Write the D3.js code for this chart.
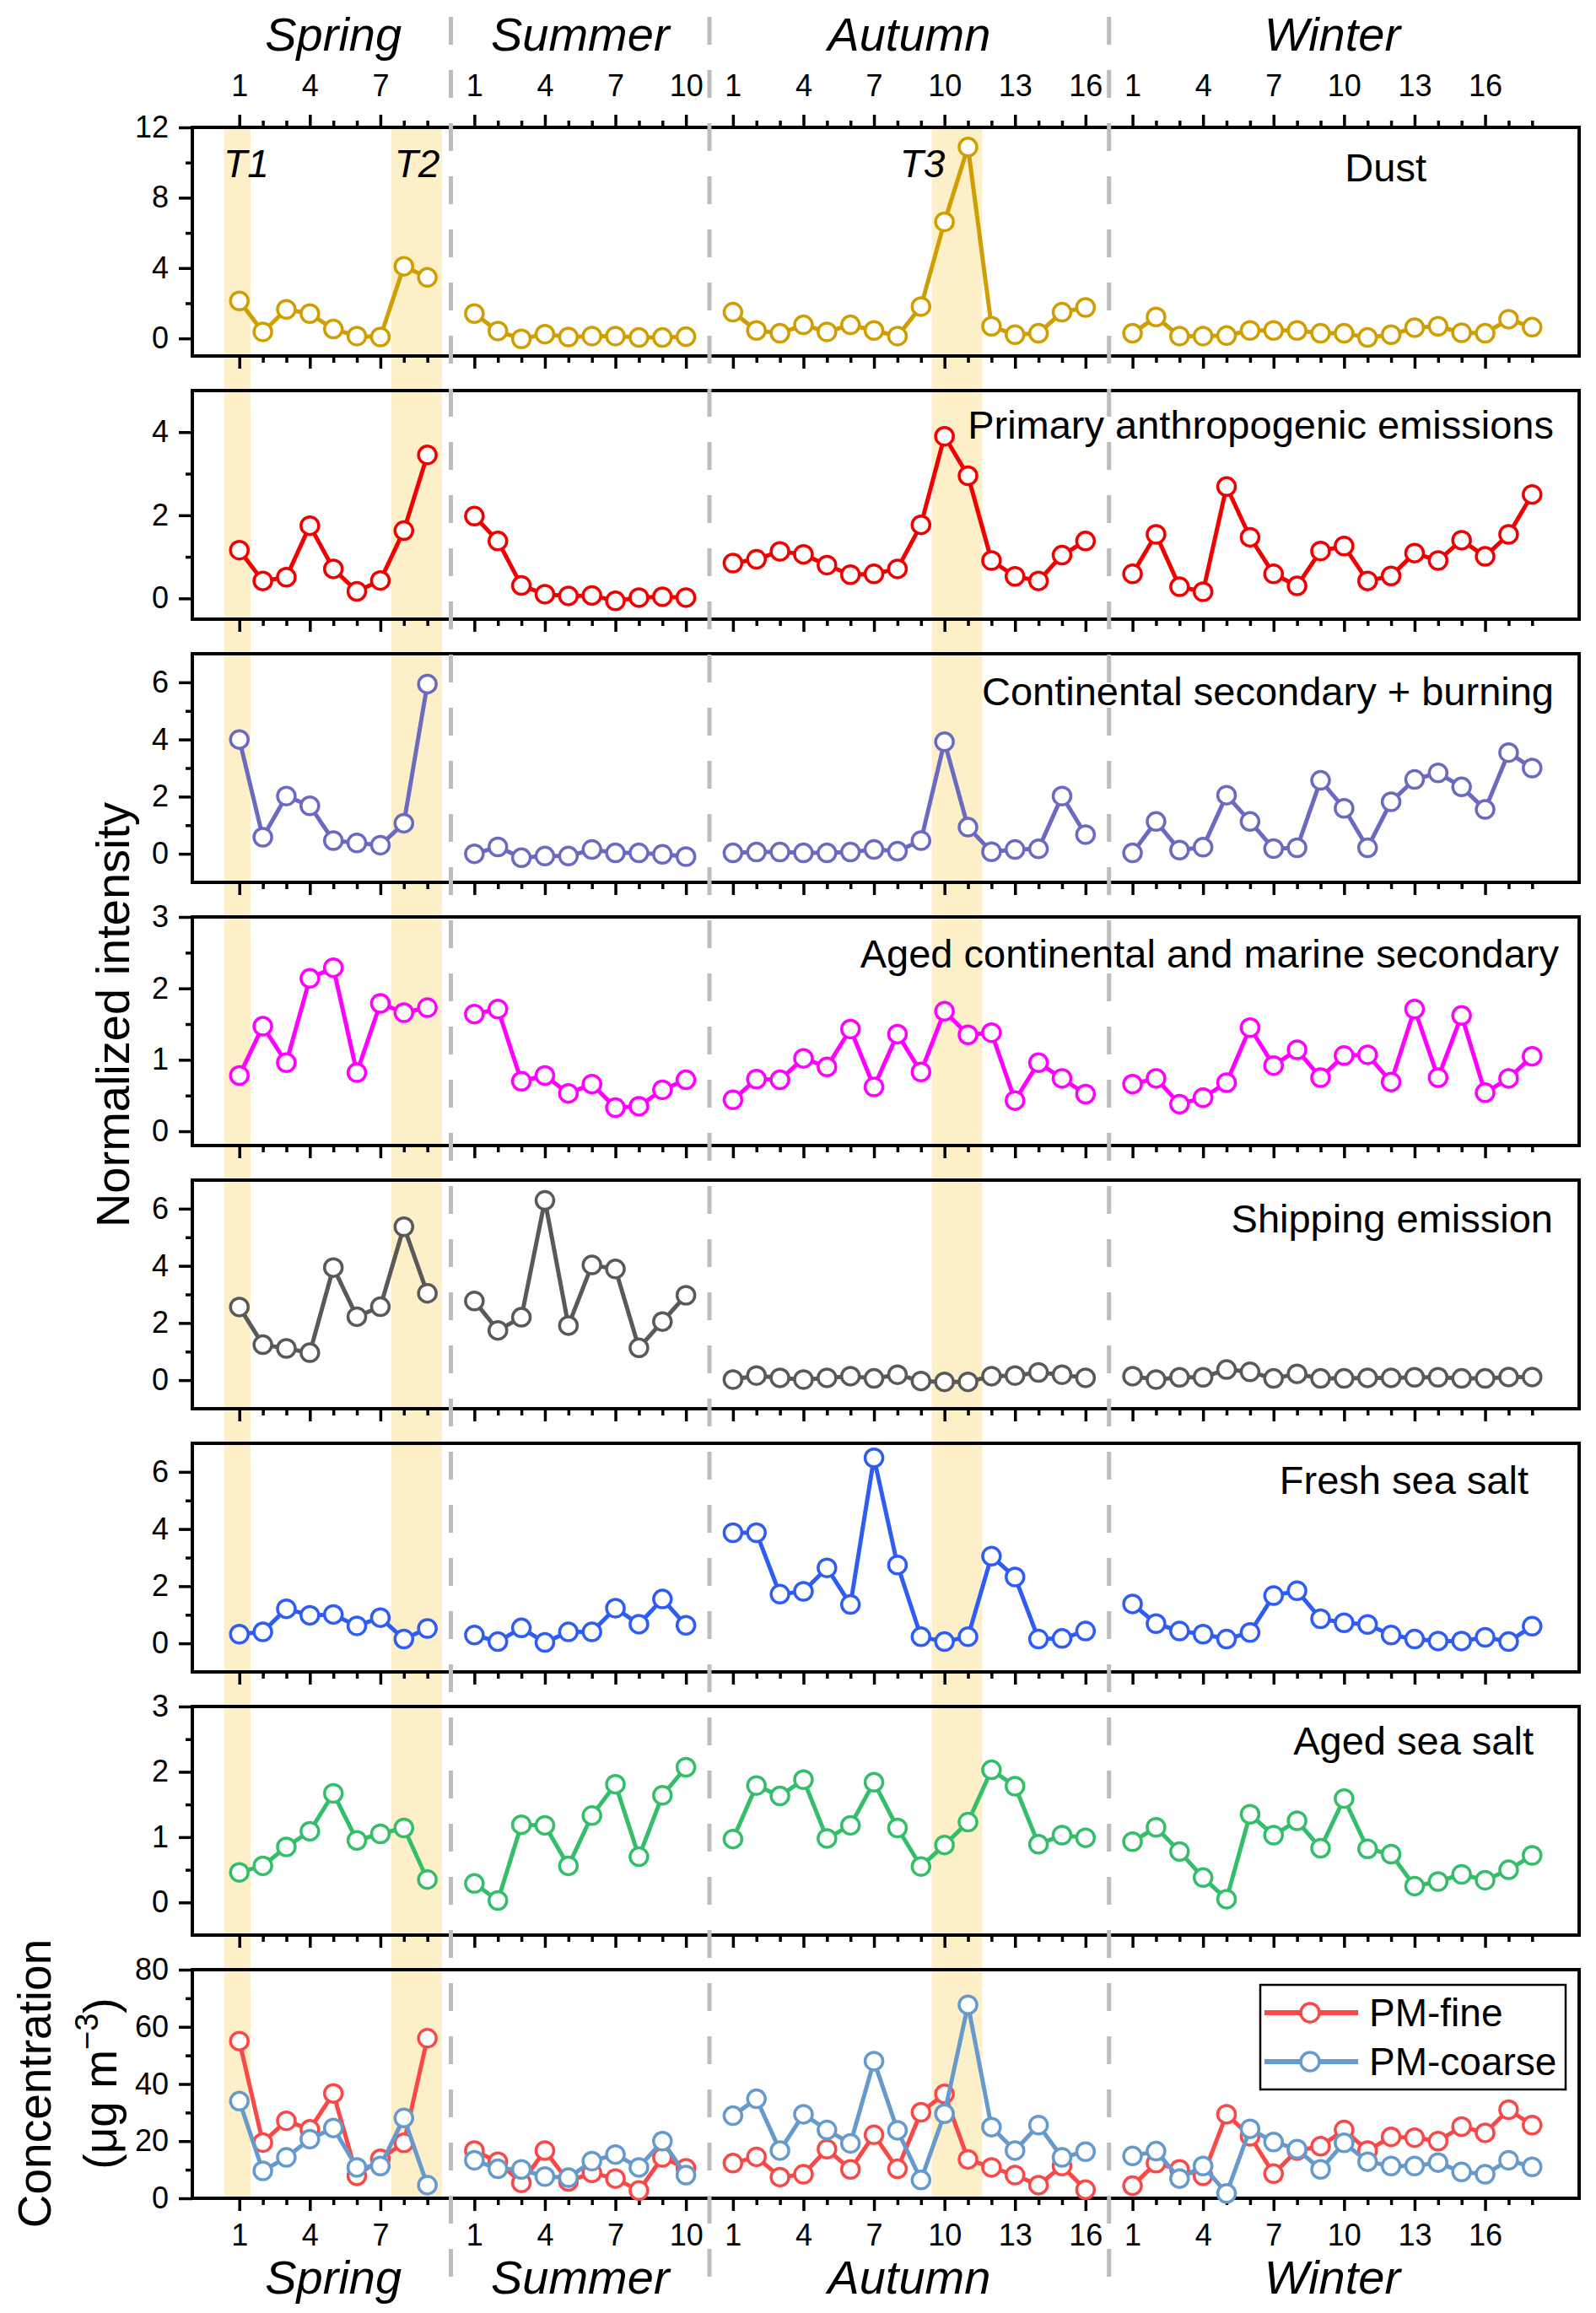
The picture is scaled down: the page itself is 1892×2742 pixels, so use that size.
<!DOCTYPE html>
<html>
<head>
<meta charset="utf-8">
<script src="https://cdn.jsdelivr.net/npm/d3@7"></script>
<style>
  body { margin: 0; background: #fff; }
  svg { display: block; font-family: "Liberation Sans", Arial, Helvetica, sans-serif; }
</style>
</head>
<body>
<script>
// ---- data ----
seasons = ["Spring", "Summer", "Autumn", "Winter"]
seasonSizes = [9, 10, 16, 18]
sampleTicks = [1, 4, 7, 10, 13, 16]

componentNames = ["Dust", "Primary anthropogenic emissions", "Continental secondary + burning",
  "Aged continental and marine secondary", "Shipping emission", "Fresh sea salt", "Aged sea salt"]

// values run Spring | Summer | Autumn | Winter
dust = [2.13, 0.37, 1.65, 1.41, 0.53, 0.13, 0.08, 4.1, 3.47,
  1.41, 0.42, -0.03, 0.24, 0.08, 0.13, 0.13, 0.05, 0.05, 0.10,
  1.49, 0.45, 0.29, 0.77, 0.37, 0.77, 0.45, 0.13, 1.81, 6.63, 10.88, 0.69, 0.21, 0.29, 1.49, 1.76,
  0.29, 1.22, 0.13, 0.13, 0.16, 0.45, 0.45, 0.45, 0.29, 0.29, 0.05, 0.21, 0.61, 0.69, 0.32, 0.29, 1.09, 0.64]
primary = [1.16, 0.42, 0.51, 1.75, 0.71, 0.17, 0.43, 1.63, 3.45,
  1.98, 1.38, 0.31, 0.10, 0.06, 0.07, -0.06, 0.02, 0.04, 0.02,
  0.85, 0.94, 1.13, 1.06, 0.80, 0.57, 0.59, 0.71, 1.77, 3.90, 2.95, 0.91, 0.53, 0.42, 1.04, 1.38,
  0.59, 1.54, 0.28, 0.16, 2.69, 1.47, 0.59, 0.30, 1.14, 1.26, 0.42, 0.54, 1.09, 0.91, 1.40, 1.01, 1.54, 2.50]
continental = [4.0, 0.58, 2.02, 1.68, 0.46, 0.38, 0.30, 1.07, 5.94,
  0.0, 0.24, -0.14, -0.08, -0.08, 0.15, 0.03, 0.03, -0.02, -0.10,
  0.03, 0.06, 0.06, 0.03, 0.03, 0.06, 0.15, 0.09, 0.46, 3.92, 0.93, 0.07, 0.15, 0.17, 2.02, 0.67,
  0.03, 1.13, 0.13, 0.23, 2.05, 1.13, 0.18, 0.21, 2.57, 1.59, 0.21, 1.82, 2.60, 2.83, 2.34, 1.55, 3.54, 3.0]
agedContinental = [0.78, 1.47, 0.96, 2.14, 2.29, 0.82, 1.79, 1.66, 1.73,
  1.64, 1.71, 0.70, 0.78, 0.53, 0.66, 0.33, 0.35, 0.58, 0.72,
  0.44, 0.73, 0.72, 1.02, 0.90, 1.43, 0.62, 1.36, 0.83, 1.68, 1.35, 1.38, 0.43, 0.96, 0.74, 0.52,
  0.66, 0.74, 0.38, 0.47, 0.68, 1.45, 0.92, 1.14, 0.75, 1.06, 1.07, 0.69, 1.71, 0.75, 1.62, 0.54, 0.74, 1.05]
shipping = [2.56, 1.24, 1.11, 0.96, 3.94, 2.22, 2.57, 5.37, 3.04,
  2.77, 1.74, 2.20, 6.29, 1.91, 4.03, 3.89, 1.13, 2.05, 2.97,
  0.02, 0.16, 0.08, 0.02, 0.08, 0.14, 0.06, 0.19, -0.03, -0.06, -0.06, 0.14, 0.16, 0.27, 0.19, 0.08,
  0.14, 0.02, 0.10, 0.10, 0.37, 0.29, 0.06, 0.22, 0.06, 0.06, 0.08, 0.08, 0.10, 0.10, 0.06, 0.06, 0.11, 0.11]
freshSeaSalt = [0.32, 0.40, 1.21, 0.98, 1.01, 0.61, 0.90, 0.15, 0.52,
  0.29, 0.06, 0.54, 0.03, 0.40, 0.40, 1.23, 0.67, 1.55, 0.63,
  3.87, 3.87, 1.72, 1.82, 2.64, 1.36, 6.49, 2.74, 0.23, 0.06, 0.23, 3.05, 2.32, 0.15, 0.17, 0.43,
  1.38, 0.69, 0.43, 0.32, 0.15, 0.38, 1.67, 1.84, 0.86, 0.72, 0.66, 0.29, 0.15, 0.08, 0.08, 0.21, 0.06, 0.60]
agedSeaSalt = [0.46, 0.56, 0.85, 1.09, 1.67, 0.95, 1.05, 1.14, 0.35,
  0.29, 0.03, 1.19, 1.18, 0.56, 1.33, 1.81, 0.70, 1.64, 2.07,
  0.97, 1.79, 1.63, 1.88, 0.98, 1.18, 1.84, 1.14, 0.55, 0.88, 1.23, 2.03, 1.78, 0.89, 1.03, 0.99,
  0.93, 1.15, 0.78, 0.38, 0.05, 1.35, 1.03, 1.25, 0.83, 1.59, 0.82, 0.74, 0.25, 0.32, 0.43, 0.34, 0.50, 0.72]
pmFine = [55.0, 19.5, 27.1, 24.1, 36.7, 7.9, 13.8, 19.4, 56.0,
  16.7, 12.8, 5.4, 16.7, 5.9, 8.9, 6.9, 2.7, 14.3, 10.5,
  12.3, 14.5, 7.4, 8.4, 17.2, 10.1, 22.2, 10.3, 30.1, 36.5, 13.6, 10.8, 8.1, 4.6, 11.3, 3.0,
  4.4, 12.3, 10.1, 7.9, 29.4, 21.7, 8.6, 16.7, 18.2, 23.9, 16.7, 21.5, 21.2, 20.0, 25.1, 22.9, 31.0, 25.6]
pmCoarse = [34.0, 9.6, 14.3, 20.7, 24.6, 10.8, 11.3, 28.1, 4.6,
  13.3, 10.3, 10.1, 7.6, 7.2, 13.0, 15.3, 10.8, 20.0, 8.1,
  28.9, 34.8, 16.7, 29.4, 23.9, 19.2, 48.0, 23.8, 6.4, 29.6, 67.7, 24.9, 16.7, 25.6, 14.3, 16.3,
  14.8, 16.5, 6.9, 11.3, 1.7, 24.3, 19.7, 17.2, 10.1, 19.4, 12.8, 11.3, 11.3, 12.5, 9.2, 8.4, 13.3, 11.0]
pmNames = ["PM-fine", "PM-coarse"]

// episodes, spans in sample-position units
episodes = ["T1", "T2", "T3"]
episodeSpans = [[-0.65, 0.48], [6.46, 8.62], [29.46, 31.61]]

// ---- layout ----
var W = 1892, H = 2742
var plotLeft = 228, plotRight = 1872
var panelTop0 = 151, panelStep = 312, panelH = 271
var font = "'Liberation Sans', Arial, Helvetica, sans-serif"

var colors = ["#CF9E00", "#F00000", "#6A6AC0", "#FF00FF", "#595959", "#2F5CF5", "#35BE6A"]
var pmColors = ["#F94848", "#6699CC"]
var bandColor = "#FDF0C8"
var dividerColor = "#BDBDBD"

// axis set-up per panel (labelRight / labelDy place the panel name)
var panels = [
  {name: componentNames[0], series: [dust], colors: [colors[0]], domain: [-1, 12], major: [0, 4, 8, 12], minor: [2, 6, 10], labelRight: 1691, labelDy: 64},
  {name: componentNames[1], series: [primary], colors: [colors[1]], domain: [-0.5, 5], major: [0, 2, 4], minor: [1, 3], labelRight: 1842, labelDy: 57},
  {name: componentNames[2], series: [continental], colors: [colors[2]], domain: [-1, 7], major: [0, 2, 4, 6], minor: [1, 3, 5], labelRight: 1842, labelDy: 61},
  {name: componentNames[3], series: [agedContinental], colors: [colors[3]], domain: [-0.2, 3], major: [0, 1, 2, 3], minor: [0.5, 1.5, 2.5], labelRight: 1848, labelDy: 60},
  {name: componentNames[4], series: [shipping], colors: [colors[4]], domain: [-1, 7], major: [0, 2, 4, 6], minor: [1, 3, 5], labelRight: 1841, labelDy: 62},
  {name: componentNames[5], series: [freshSeaSalt], colors: [colors[5]], domain: [-1, 7], major: [0, 2, 4, 6], minor: [1, 3, 5], labelRight: 1812, labelDy: 60},
  {name: componentNames[6], series: [agedSeaSalt], colors: [colors[6]], domain: [-0.5, 3], major: [0, 1, 2, 3], minor: [0.5, 1.5, 2.5], labelRight: 1818, labelDy: 57},
  {name: null, series: [pmFine, pmCoarse], colors: pmColors, domain: [0, 80], major: [0, 20, 40, 60, 80], minor: [10, 30, 50, 70]}
]

// sample positions: one empty slot between seasons
var samples = []
var offset = 0
seasonSizes.forEach(function(size, s){
  for (var n = 1; n <= size; n++) samples.push({season: s, n: n, pos: offset + s + n - 1})
  offset += size
})
var seasonFirst = seasons.map((s, i) => samples.filter(d => d.season == i)[0].pos)
var seasonLast = seasons.map((s, i) => samples.filter(d => d.season == i).slice(-1)[0].pos)

var majorPos = samples.filter(d => sampleTicks.indexOf(d.n) >= 0).map(d => d.pos)
var minorPos = samples.filter(d => sampleTicks.indexOf(d.n) < 0).map(d => d.pos)
var labelOf = new Map(samples.map(d => [d.pos, d.n]))

var x = d3.scaleLinear().domain([-2, 57]).range([plotLeft, plotRight])

svg = d3.select("body").append("svg").attr("width", W).attr("height", H)
  .style("font-family", font)

var firstTop = panelTop0
var lastBottom = panelTop0 + (panels.length - 1) * panelStep + panelH

// episode bands behind everything
svg.append("g").selectAll("rect")
  .data(episodeSpans)
  .enter()
  .append("rect")
  .attr("x", d => x(d[0]))
  .attr("width", d => x(d[1]) - x(d[0]))
  .attr("y", firstTop)
  .attr("height", lastBottom - firstTop)
  .attr("fill", bandColor)

function styleAxis(g){
  g.select(".domain").remove()
  g.attr("font-family", font).attr("font-size", 36)
  g.selectAll(".tick line").attr("stroke", "black").attr("stroke-width", 3.5)
  g.selectAll(".tick text").attr("fill", "black")
  // drop the empty labels of unlabelled ticks
  g.selectAll(".tick text").filter(function(){ return this.textContent === "" }).remove()
}

panels.forEach(function(p, k){
  var top = panelTop0 + k * panelStep
  var bottom = top + panelH
  var y = d3.scaleLinear().domain(p.domain).range([bottom, top])
  var g = svg.append("g").attr("class", "panel-" + k)
  var isLast = k == panels.length - 1

  // x ticks below each panel
  g.append("g").attr("transform", "translate(0," + bottom + ")")
    .call(d3.axisBottom(x).tickValues(minorPos).tickSize(8).tickFormat(""))
    .call(styleAxis)
  g.append("g").attr("transform", "translate(0," + bottom + ")")
    .call(d3.axisBottom(x).tickValues(majorPos).tickSize(15).tickPadding(15)
      .tickFormat(d => isLast ? labelOf.get(d) : ""))
    .call(styleAxis)

  // top axis only for the first panel
  if (k == 0){
    g.append("g").attr("transform", "translate(0," + top + ")")
      .call(d3.axisTop(x).tickValues(minorPos).tickSize(8).tickFormat(""))
      .call(styleAxis)
    g.append("g").attr("transform", "translate(0," + top + ")")
      .call(d3.axisTop(x).tickValues(majorPos).tickSize(15).tickPadding(22).tickFormat(d => labelOf.get(d)))
      .call(styleAxis)
  }

  // y axis
  g.append("g").attr("transform", "translate(" + plotLeft + ",0)")
    .call(d3.axisLeft(y).tickValues(p.minor).tickSize(8).tickFormat(""))
    .call(styleAxis)
  g.append("g").attr("transform", "translate(" + plotLeft + ",0)")
    .call(d3.axisLeft(y).tickValues(p.major).tickSize(16).tickPadding(12).tickFormat(d3.format("d")))
    .call(styleAxis)

  // frame
  g.append("rect")
    .attr("x", plotLeft).attr("y", top)
    .attr("width", plotRight - plotLeft).attr("height", panelH)
    .attr("fill", "none").attr("stroke", "black").attr("stroke-width", 4)

  // series: one path per season, then open circles
  var line = d3.line().x(d => x(d.pos)).y(d => y(d.v))
  p.series.forEach(function(values, si){
    var pts = samples.map((d, i) => ({season: d.season, pos: d.pos, v: values[i]}))
    var color = p.colors[si]
    seasons.forEach(function(s, sIdx){
      g.append("path")
        .datum(pts.filter(d => d.season == sIdx))
        .attr("d", line)
        .attr("fill", "none")
        .attr("stroke", color)
        .attr("stroke-width", 5)
        .attr("stroke-linejoin", "round")
    })
    g.append("g").selectAll("circle")
      .data(pts)
      .enter()
      .append("circle")
      .attr("cx", d => x(d.pos))
      .attr("cy", d => y(d.v))
      .attr("r", 10.5)
      .attr("fill", "white")
      .attr("stroke", color)
      .attr("stroke-width", 3.5)
  })

  p.top = top
})

// season dividers
svg.append("g").selectAll("line")
  .data(seasonFirst.slice(1))
  .enter()
  .append("line")
  .attr("x1", d => x(d - 1)).attr("x2", d => x(d - 1))
  .attr("y1", 20).attr("y2", 2713)
  .attr("stroke", dividerColor)
  .attr("stroke-width", 5)
  .attr("stroke-dasharray", "33,30")

// panel names
svg.append("g").selectAll("text")
  .data(panels.filter(p => p.name))
  .enter()
  .append("text")
  .attr("x", d => d.labelRight)
  .attr("y", d => d.top + d.labelDy)
  .attr("text-anchor", "end")
  .attr("font-size", 47)
  .text(d => d.name)

// episode labels
var tLabelAt = [-0.67, 6.6, 28.1]
svg.append("g").selectAll("text")
  .data(episodes)
  .enter()
  .append("text")
  .attr("x", (d, i) => x(tLabelAt[i]))
  .attr("y", panelTop0 + 59)
  .attr("font-size", 46)
  .attr("font-style", "italic")
  .text(d => d)

// season titles, top and bottom
;[60, 2719].forEach(function(ty){
  svg.append("g").selectAll("text")
    .data(seasons)
    .enter()
    .append("text")
    .attr("x", (d, i) => x((seasonFirst[i] + seasonLast[i]) / 2))
    .attr("y", ty)
    .attr("text-anchor", "middle")
    .attr("font-size", 56)
    .attr("font-style", "italic")
    .text(d => d)
})

// axis titles
svg.append("text")
  .attr("transform", "translate(153,1203) rotate(-90)")
  .attr("text-anchor", "middle")
  .attr("font-size", 56)
  .text("Normalized intensity")

svg.append("text")
  .attr("transform", "translate(60,2470) rotate(-90)")
  .attr("text-anchor", "middle")
  .attr("font-size", 55)
  .text("Concentration")

var unit = svg.append("text")
  .attr("transform", "translate(138,2470) rotate(-90)")
  .attr("text-anchor", "middle")
  .attr("font-size", 55)
unit.append("tspan").text("(\u03bcg m")
unit.append("tspan").attr("font-size", 38).attr("dy", -22).text("\u22123")
unit.append("tspan").attr("dy", 22).text(")")

// legend
var legend = svg.append("g")
legend.append("rect")
  .attr("x", 1494).attr("y", 2353).attr("width", 362).attr("height", 124)
  .attr("fill", "white").attr("stroke", "black").attr("stroke-width", 2.5)
var rows = legend.selectAll(".legend-row")
  .data(pmNames)
  .enter()
  .append("g")
  .attr("class", "legend-row")
  .attr("transform", (d, i) => "translate(0," + (2386 + i * 58) + ")")
rows.append("line")
  .attr("x1", 1499).attr("x2", 1610)
  .attr("stroke", (d, i) => pmColors[i]).attr("stroke-width", 6)
rows.append("circle")
  .attr("cx", 1553).attr("r", 11)
  .attr("fill", "white").attr("stroke", (d, i) => pmColors[i]).attr("stroke-width", 3.5)
rows.append("text")
  .attr("x", 1623).attr("y", 16)
  .attr("font-size", 46)
  .text(d => d)
</script>
</body>
</html>
